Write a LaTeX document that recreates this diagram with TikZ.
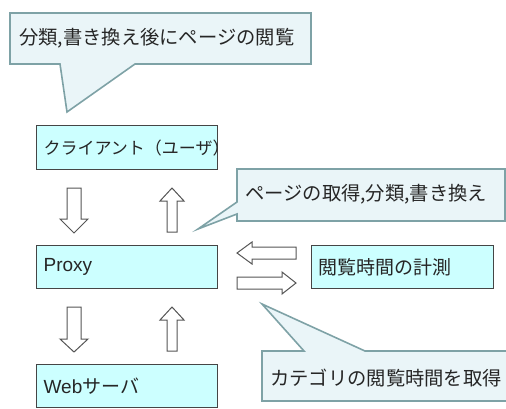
\documentclass[tikz,border=0pt]{standalone}
\usepackage{fontspec}
\setmainfont{Noto Sans CJK JP}
\newfontfamily\latinfont{Liberation Sans}
\definecolor{boxfill}{HTML}{CCFFFF}
\definecolor{boxline}{HTML}{454545}
\definecolor{callfill}{HTML}{EAF5F8}
\definecolor{callline}{HTML}{7EA2A6}
\definecolor{txt}{HTML}{262626}
\definecolor{arrline}{HTML}{555555}
\begin{document}
\begin{tikzpicture}[x=1pt,y=-1pt,
  box/.style={draw=boxline,fill=boxfill,line width=1.3pt,rectangle,anchor=north west,
    inner xsep=7pt,inner ysep=0pt,align=left,text=txt,font=\fontsize{19}{22}\selectfont},
  callout/.style={draw=callline,fill=callfill,line width=1.6pt,line join=miter},
  calltext/.style={anchor=west,inner sep=0pt,text=txt,font=\fontsize{19.3}{22}\selectfont},
  blockarrow/.style={draw=arrline,fill=white,line width=1pt,line join=miter}]
\useasboundingbox (0,0) rectangle (506,408);
\clip (0,0) rectangle (506,408);

% callout 1
\draw[callout] (10,13) -- (311,13) -- (311,64) -- (135,64) -- (67,112) -- (60,64) -- (10,64) -- cycle;
\node[calltext] (t1) at (19,38) {分類,書き換え後にページの閲覧};

% callout 2
\draw[callout] (237,169) -- (505,169) -- (505,221) -- (237,221) -- (237,214) -- (198,229) -- (237,202) -- cycle;
\node[calltext] (t2) at (245,194) {ページの取得,分類,書き換え};

% callout 3
\draw[callout] (262,351) -- (304,351) -- (262,304) -- (365,351) -- (510,351) -- (510,401) -- (262,401) -- cycle;
\node[calltext] (t3) at (270,378) {カテゴリの閲覧時間を取得};

% boxes
\node[box,minimum width=181pt,minimum height=44pt,text width=167pt,font=\fontsize{17}{20}\selectfont] (client) at (36,125) {クライアント（ユーザ）};
\node[box,minimum width=181pt,minimum height=43pt,text width=167pt] (proxy) at (36,245) {\raisebox{-2pt}{\latinfont Proxy}};
\node[box,minimum width=181pt,minimum height=43pt,text width=167pt] (web) at (36,364) {{\latinfont Web}サーバ};
\node[box,minimum width=182pt,minimum height=43pt,text width=168pt] (meas) at (311,245) {閲覧時間の計測};

% block arrows client <-> proxy
\draw[blockarrow] (67,188) -- (81,188) -- (81,219) -- (88,219) -- (74,233) -- (60,219) -- (67,219) -- cycle;
\draw[blockarrow] (167,232) -- (177,232) -- (177,201) -- (184,201) -- (172,188) -- (160,201) -- (167,201) -- cycle;
% block arrows proxy <-> web
\draw[blockarrow] (67,307) -- (81,307) -- (81,339) -- (88,339) -- (74,352) -- (60,339) -- (67,339) -- cycle;
\draw[blockarrow] (167,351) -- (177,351) -- (177,320) -- (184,320) -- (172,307) -- (160,320) -- (167,320) -- cycle;
% block arrows proxy <-> measurement
\draw[blockarrow] (296,247) -- (252,247) -- (252,242) -- (237,253) -- (252,264) -- (252,259) -- (296,259) -- cycle;
\draw[blockarrow] (237,277) -- (282,277) -- (282,272) -- (296,283) -- (282,294) -- (282,289) -- (237,289) -- cycle;
\end{tikzpicture}
\end{document}
